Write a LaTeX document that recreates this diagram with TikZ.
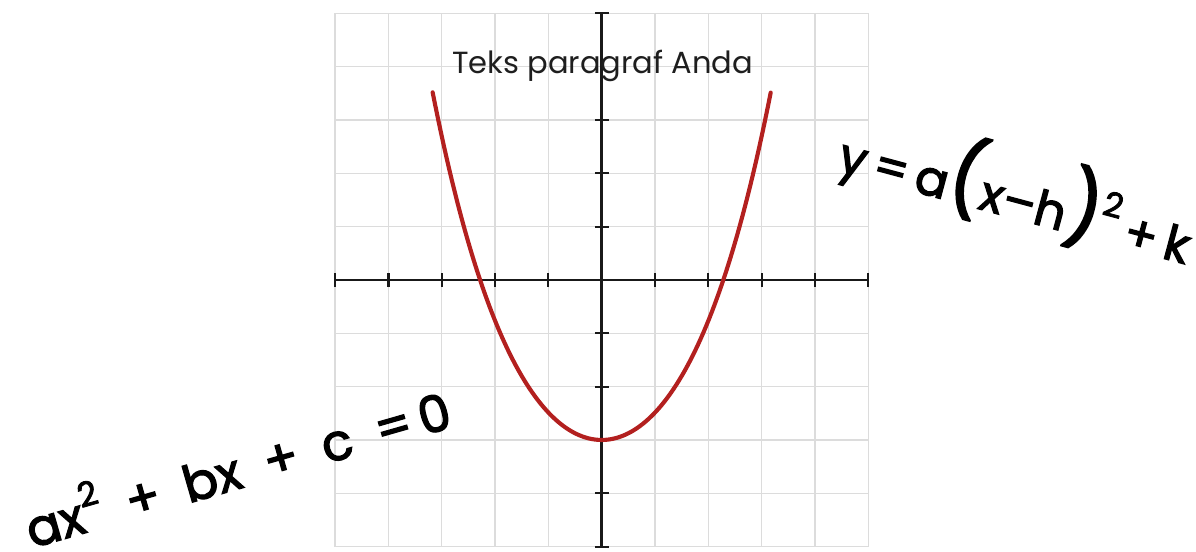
\documentclass[tikz,border=0pt]{standalone}
\usepackage{fontspec}
\setmainfont{Poppins}
\newfontfamily\hand[FakeBold=2.5]{Poppins}
\definecolor{gridc}{HTML}{DCDCDC}
\definecolor{curvec}{HTML}{B3201F}
\definecolor{textc}{HTML}{1E1E1E}
\newcommand{\gp}{\hspace{0.5em}}
\tikzset{
  gridline/.style={draw=gridc, line width=0.6pt},
  axisline/.style={draw=black!90, line width=1.4pt},
  tickline/.style={draw=black!90, line width=1.2pt},
  curveline/.style={draw=curvec, line width=2.2pt, line cap=round},
  label/.style={text=textc, font=\fontsize{16.3}{18}\selectfont, inner sep=0pt},
  handeq/.style={text=black, inner sep=0pt},
}
\begin{document}
\begin{tikzpicture}[x=1cm,y=1cm]
\useasboundingbox (-11.283,-5.1) rectangle (11.144,5.25);
% grid
\draw[gridline] (-5,-5) grid (5,5);
% axes
\coordinate (xl) at (-5,0);
\coordinate (xr) at (5,0);
\coordinate (yb) at (0,-5);
\coordinate (yt) at (0,5);
\draw[axisline] (xl) -- (xr);
\draw[axisline] (yb) -- (yt);
\foreach \x in {-5,-4,-3,-2,-1,1,2,3,4,5}
  \draw[tickline] (\x,-0.13) -- (\x,0.13);
\foreach \y in {-5,-4,-3,-2,-1,1,2,3,5}
  \draw[tickline] (-0.13,\y) -- (0.13,\y);
% parabola
\draw[curveline] plot[domain=-3.17:3.17, samples=120, smooth]
  (\x, {0.5*\x*\x + 0.0148*\x*\x*\x*\x - 3});
% texts
\node[label, anchor=base] (title) at (0.02,3.88) {Teks paragraf Anda};
\node[handeq, rotate=-15] (eqa) at (7.8,1.68)
  {\hand\fontsize{26}{30}\selectfont y\,=\,a{\fontsize{40}{40}\selectfont(}x–h{\fontsize{40}{40}\selectfont)}\raisebox{1.0ex}{\fontsize{18}{18}\selectfont 2}\,+\,k};
\node[handeq, rotate=16] (eqb) at (-6.85,-3.45)
  {\hand\fontsize{27}{32}\selectfont ax\raisebox{0.9ex}{\fontsize{18}{18}\selectfont 2}\gp+\gp bx\gp+\gp c\gp=\,0};
\end{tikzpicture}
\end{document}
